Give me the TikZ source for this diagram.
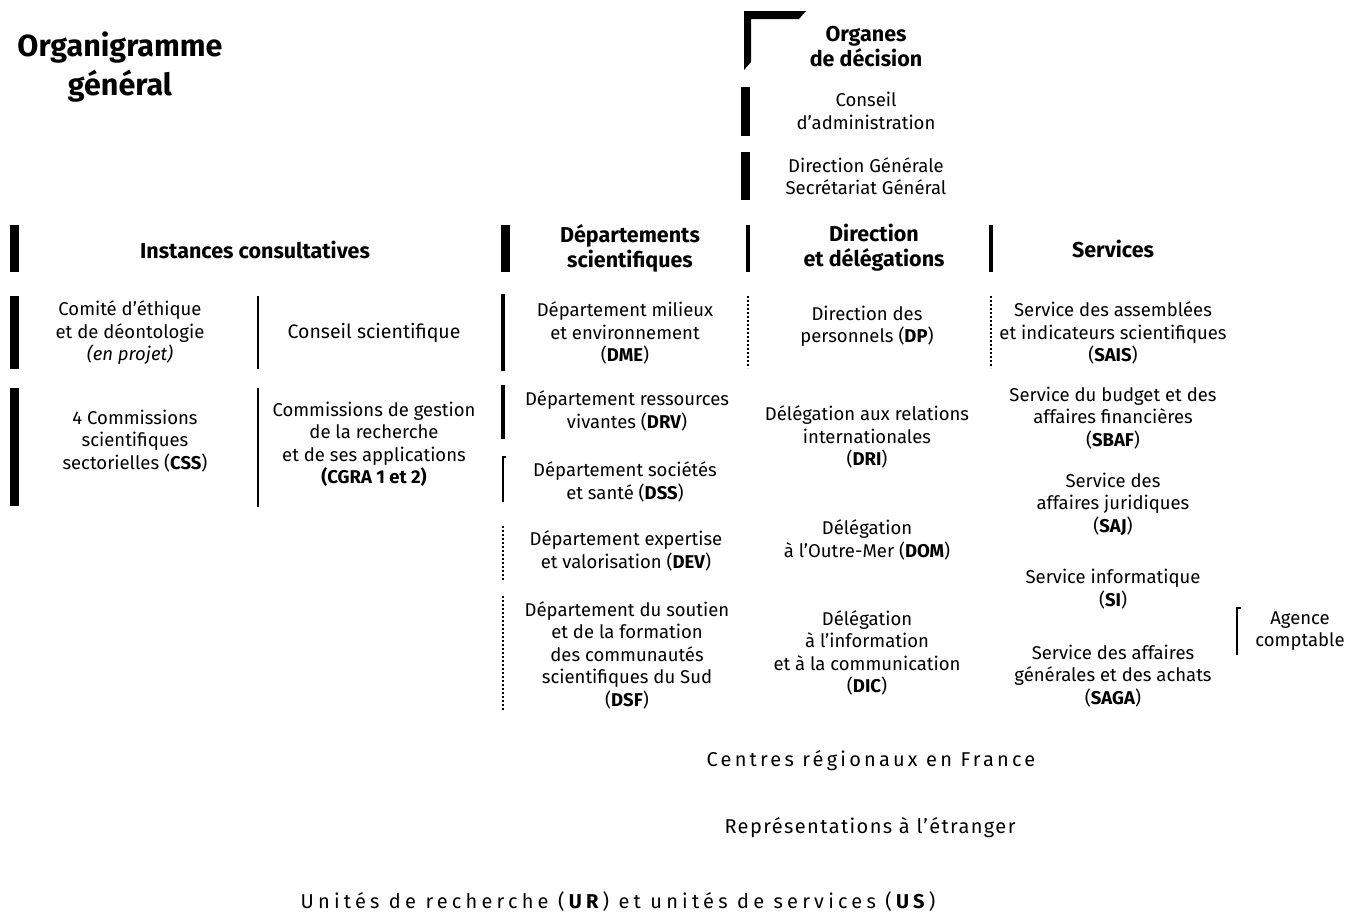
\documentclass[tikz,border=0pt]{standalone}
\usepackage{fontspec}
\setmainfont{Fira Sans}
\usetikzlibrary{positioning}
\tikzset{
  entry/.style={align=center, inner sep=0pt,
    font=\fontsize{18.5}{22.5}\selectfont},
  head/.style={align=center, inner sep=0pt,
    font=\fontsize{21.5}{25}\selectfont\bfseries},
  spaced/.style={inner sep=0pt,
    font=\fontsize{20}{22}\selectfont\addfontfeature{LetterSpace=#1}},
  heavy bar/.style={line width=9pt},
  mid bar/.style={line width=4pt},
  thin bar/.style={line width=2.5pt},
  faint bar/.style={line width=1.2pt, dash pattern=on 2pt off 2pt},
}

\begin{document}
\begin{tikzpicture}[x=1pt,y=-1pt]
\useasboundingbox (0,0) rectangle (1348,913);

% title
\node[align=center, inner sep=0pt, font=\fontsize{30.5}{39}\selectfont\bfseries]
  (title) at (120,67) {Organigramme\\général};

% organes de decision
\fill (744,11) -- (806,11) -- (799,19) -- (751,19) -- (751,62) -- (744,70) -- cycle;
\node[head] (organes) at (866,47) {Organes\\de décision};
\draw[heavy bar] (745,87) -- (745,136);
\node[entry] (ca) at (866,111) {Conseil\\d’administration};
\draw[heavy bar] (745,152) -- (745,200);
\node[entry] (dg) at (866,176) {Direction Générale\\Secrétariat Général};

% headers
\draw[heavy bar] (14,225) -- (14,272);
\node[head] (instances) at (255,250) {Instances consultatives};
\draw[heavy bar] (505,225) -- (505,272);
\node[head] (depts) at (630,248) {Départements\\scientifiques};
\draw[mid bar] (748,225) -- (748,272);
\node[head] (directions) at (874,248) {Direction\\et délégations};
\draw[mid bar] (991,225) -- (991,272);
\node[head] (services) at (1113,249) {Services};

% instances consultatives
\draw[heavy bar] (14,296) -- (14,369);
\node[entry] (ethique) at (130,333) {Comité d’éthique\\et de déontologie\\\textit{(en projet)}};
\draw[thin bar] (258,296) -- (258,369);
\node[entry, font=\fontsize{19.5}{22.5}\selectfont] (cs) at (374,333) {Conseil scientifique};
\draw[heavy bar] (14,388) -- (14,506);
\node[entry] (css) at (135,441) {4 Commissions\\scientifiques\\sectorielles (\textbf{CSS})};
\draw[thin bar] (258,388) -- (258,507);
\node[entry] (cgra) at (374,444) {Commissions de gestion\\de la recherche\\et de ses applications\\\textbf{(CGRA 1 et 2)}};

% departements
\draw[mid bar] (505,296) -- (503,296) -- (503,369) -- (505,369);
\node[entry] (dme) at (625,333) {Département milieux\\et environnement\\(\textbf{DME})};
\draw[mid bar] (505,387) -- (503,387) -- (503,437) -- (505,437);
\node[entry] (drv) at (627,411) {Département ressources\\vivantes (\textbf{DRV})};
\draw[thin bar] (506,457) -- (503,457) -- (503,502);
\node[entry] (dss) at (625,482) {Département sociétés\\et santé (\textbf{DSS})};
\draw[faint bar] (503,526) -- (503,580);
\node[entry] (dev) at (626,551) {Département expertise\\et valorisation (\textbf{DEV})};
\draw[faint bar] (503,596) -- (503,710);
\node[entry] (dsf) at (627,655) {Département du soutien\\et de la formation\\des communautés\\scientifiques du Sud\\(\textbf{DSF})};

% direction et delegations
\draw[faint bar] (748,296) -- (748,368);
\node[entry] (dp) at (867,326) {Direction des\\personnels (\textbf{DP})};
\node[entry] (dri) at (867,437) {Délégation aux relations\\internationales\\(\textbf{DRI})};
\node[entry] (dom) at (867,540) {Délégation\\à l’Outre-Mer (\textbf{DOM})};
\node[entry] (dic) at (867,653) {Délégation\\à l’information\\et à la communication\\(\textbf{DIC})};

% services
\draw[faint bar] (991,296) -- (991,368);
\node[entry] (sais) at (1113,333) {Service des assemblées\\et indicateurs scientifiques\\(\textbf{SAIS})};
\node[entry] (sbaf) at (1113,418) {Service du budget et des\\affaires financières\\(\textbf{SBAF})};
\node[entry] (saj) at (1113,504) {Service des\\affaires juridiques\\(\textbf{SAJ})};
\node[entry] (si) at (1113,589) {Service informatique\\(\textbf{SI})};
\node[entry] (saga) at (1113,676) {Service des affaires\\générales et des achats\\(\textbf{SAGA})};
\draw[line width=1.5pt] (1241,608) -- (1237,608) -- (1237,655);
\node[entry] (agence) at (1300,631) {Agence\\comptable};

% implantations
\node[spaced=16] (centres) at (871,761) {Centres régionaux en France};
\node[spaced=7] (etranger) at (870,828) {Représentations à l’étranger};
\node[spaced=21] (unites) at (618,901) {Unités de recherche (\textbf{UR}) et unités de services (\textbf{US})};
\end{tikzpicture}
\end{document}
